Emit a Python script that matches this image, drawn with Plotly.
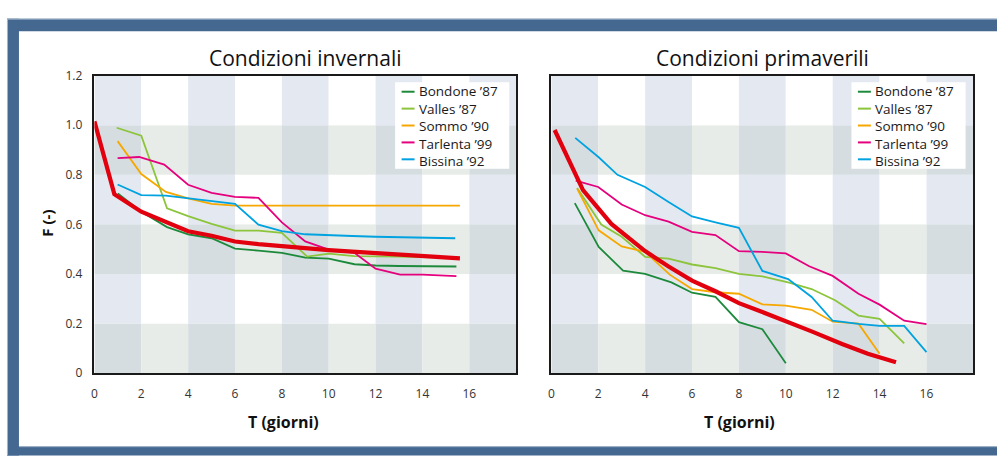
import plotly.graph_objects as go

# ---------------- data ----------------
series_names = ["Bondone \u201987", "Valles \u201987", "Sommo \u201990", "Tarlenta \u201999", "Bissina \u201992"]
series_colors = ["#1d8a3b", "#8cc43c", "#f6a800", "#e5007d", "#00a2e0"]
mean_color = "#e2000f"

# Winter conditions (Condizioni invernali)
w_bondone_x = [1, 2, 3.1, 4, 5, 6, 7, 8, 9, 10, 11.1, 12, 13, 14, 15.45]
w_bondone_y = [0.725, 0.651, 0.589, 0.560, 0.544, 0.502, 0.494, 0.485, 0.466, 0.462, 0.439, 0.434, 0.432, 0.431, 0.430]
w_valles_x = [0.95, 2, 3.1, 4, 5, 6, 7, 8, 9.08, 10, 11.1, 12, 13, 14, 15.5]
w_valles_y = [0.990, 0.958, 0.665, 0.633, 0.602, 0.575, 0.575, 0.566, 0.470, 0.482, 0.472, 0.472, 0.470, 0.468, 0.467]
w_sommo_x = [0.99, 2, 3.05, 4, 5, 6, 7, 8, 9, 10, 11, 12, 13, 14, 15.6]
w_sommo_y = [0.936, 0.803, 0.731, 0.705, 0.683, 0.676, 0.676, 0.676, 0.676, 0.676, 0.676, 0.676, 0.676, 0.676, 0.676]
w_tarlenta_x = [0.99, 1.91, 2.98, 4, 5, 6, 7, 8, 9, 10, 11.1, 12, 13.05, 14, 15.45]
w_tarlenta_y = [0.867, 0.872, 0.841, 0.760, 0.727, 0.711, 0.707, 0.608, 0.531, 0.498, 0.485, 0.421, 0.397, 0.397, 0.391]
w_bissina_x = [0.99, 2, 3.05, 4, 5, 6, 7, 8, 9, 10, 11, 12, 13, 14, 15.4]
w_bissina_y = [0.761, 0.718, 0.716, 0.705, 0.693, 0.683, 0.599, 0.573, 0.560, 0.555, 0.553, 0.550, 0.548, 0.546, 0.544]
w_mean_x = [0, 0.85, 2, 3.1, 4, 5, 6, 7, 8, 9, 10, 11, 12, 13, 14, 15, 15.6]
w_mean_y = [1.016, 0.722, 0.651, 0.608, 0.572, 0.554, 0.531, 0.520, 0.511, 0.503, 0.496, 0.490, 0.485, 0.480, 0.474, 0.467, 0.463]

# Spring conditions (Condizioni primaverili)
s_bondone_x = [1, 2.02, 3.06, 4, 5.12, 6, 7, 8, 9, 10]
s_bondone_y = [0.686, 0.509, 0.413, 0.400, 0.366, 0.324, 0.307, 0.205, 0.177, 0.039]
s_valles_x = [1.1, 2.13, 3, 4, 5, 6, 7, 8, 9, 10.1, 11.1, 12.1, 13.1, 14, 15.05]
s_valles_y = [0.747, 0.599, 0.550, 0.469, 0.462, 0.438, 0.423, 0.400, 0.390, 0.366, 0.339, 0.294, 0.232, 0.219, 0.120]
s_sommo_x = [1.1, 2.02, 3, 4, 5.05, 6, 7, 8, 9, 10, 11.1, 12, 13.1, 14]
s_sommo_y = [0.744, 0.576, 0.511, 0.489, 0.397, 0.339, 0.326, 0.320, 0.277, 0.272, 0.255, 0.207, 0.199, 0.078]
s_tarlenta_x = [1.04, 2, 3, 4, 5, 6, 7, 8, 9, 10, 11, 12, 13.1, 14, 15.05, 16]
s_tarlenta_y = [0.777, 0.751, 0.680, 0.637, 0.611, 0.570, 0.557, 0.492, 0.489, 0.483, 0.431, 0.392, 0.320, 0.276, 0.211, 0.197]
s_bissina_x = [1.02, 2.02, 2.82, 4, 5, 6, 7, 8, 9, 10.1, 11.1, 12, 13.1, 14, 15.05, 16]
s_bissina_y = [0.949, 0.871, 0.800, 0.751, 0.690, 0.632, 0.608, 0.586, 0.412, 0.379, 0.307, 0.211, 0.198, 0.190, 0.190, 0.084]
s_mean_x = [0.14, 1.35, 2.56, 4, 5, 6, 7, 8, 9, 10.1, 11.1, 12.4, 13.5, 14.7]
s_mean_y = [0.981, 0.738, 0.602, 0.492, 0.430, 0.373, 0.330, 0.282, 0.246, 0.207, 0.168, 0.117, 0.078, 0.043]

x_tickvals = [0, 2, 4, 6, 8, 10, 12, 14, 16]
y_tickvals = [0, 0.2, 0.4, 0.6, 0.8, 1.0, 1.2]
y_ticktext = ["0", "0.2", "0.4", "0.6", "0.8", "1.0", "1.2"]

titles = ["Condizioni invernali", "Condizioni primaverili"]
x_title = "T (giorni)"
y_title = "F (-)"

# ---------------- figure ----------------
W, H = 997, 459
FONT = "Open Sans"


def px(v):
    return v / W


def py(v):
    return 1 - v / H


fig = go.Figure()

winter = [(w_bondone_x, w_bondone_y), (w_valles_x, w_valles_y), (w_sommo_x, w_sommo_y),
          (w_tarlenta_x, w_tarlenta_y), (w_bissina_x, w_bissina_y)]
spring = [(s_bondone_x, s_bondone_y), (s_valles_x, s_valles_y), (s_sommo_x, s_sommo_y),
          (s_tarlenta_x, s_tarlenta_y), (s_bissina_x, s_bissina_y)]

for data, mx, my, xa, ya in [(winter, w_mean_x, w_mean_y, "x", "y"),
                             (spring, s_mean_x, s_mean_y, "x2", "y2")]:
    for (sx, sy), name, col in zip(data, series_names, series_colors):
        fig.add_trace(go.Scatter(x=sx, y=sy, mode="lines", name=name, showlegend=False,
                                 line=dict(color=col, width=1.8), xaxis=xa, yaxis=ya))
    fig.add_trace(go.Scatter(x=mx, y=my, mode="lines", name="media", showlegend=False,
                             line=dict(color=mean_color, width=4.2), xaxis=xa, yaxis=ya))

# checkerboard background
c_wh, c_col, c_row, c_both = "#ffffff", "#e4e9f1", "#e8ece8", "#d5dde1"
shapes = []
for xr, yr in [("x", "y"), ("x2", "y2")]:
    for i in range(9):
        for j in range(6):
            dark_col = (i % 2 == 0)
            dark_row = (j % 2 == 0)
            if dark_col and dark_row:
                c = c_both
            elif dark_col:
                c = c_col
            elif dark_row:
                c = c_row
            else:
                c = c_wh
            shapes.append(dict(type="rect", xref=xr, yref=yr, x0=2 * i, x1=2 * i + 2,
                               y0=0.2 * j, y1=0.2 * j + 0.2, fillcolor=c,
                               line=dict(width=0), layer="below"))

# outer blue frame
frame = "#456891"
edge = "#a3b6cb"
shapes += [
    dict(type="rect", xref="paper", yref="paper", x0=px(4), x1=1.01, y0=py(23), y1=py(10),
         fillcolor=frame, line=dict(width=0), layer="above"),
    dict(type="rect", xref="paper", yref="paper", x0=px(4), x1=px(16), y0=-0.01, y1=py(10),
         fillcolor=frame, line=dict(width=0), layer="above"),
    dict(type="rect", xref="paper", yref="paper", x0=px(4), x1=1.01, y0=-0.01, y1=py(454),
         fillcolor=frame, line=dict(width=0), layer="above"),
    dict(type="line", xref="paper", yref="paper", x0=px(4), x1=1.01, y0=py(10.5), y1=py(10.5),
         line=dict(color=edge, width=1), layer="above"),
    dict(type="line", xref="paper", yref="paper", x0=px(16), x1=1.01, y0=py(454.5), y1=py(454.5),
         line=dict(color=edge, width=1), layer="above"),
    dict(type="line", xref="paper", yref="paper", x0=px(4.5), x1=px(4.5), y0=-0.01, y1=py(10),
         line=dict(color=edge, width=1), layer="above"),
]

# custom legends (one per panel): white box, short line samples, one text block
annotations = []
LEG_FS = 13.5
LEG_STEP = 1.3 * LEG_FS
for bx in [393.3, 851.0]:
    shapes.append(dict(type="rect", xref="paper", yref="paper", x0=px(bx), x1=px(bx + 114.5),
                       y0=py(166), y1=py(76), fillcolor="white", line=dict(width=0), layer="above"))
    y_first = 121.0 - 2 * LEG_STEP
    for k, col in enumerate(series_colors):
        yc = y_first + LEG_STEP * k
        shapes.append(dict(type="line", xref="paper", yref="paper", x0=px(bx + 6.5), x1=px(bx + 19.5),
                           y0=py(yc), y1=py(yc), line=dict(color=col, width=2), layer="above"))
    annotations.append(dict(text="<br>".join(series_names), xref="paper", yref="paper",
                            x=px(bx + 21.5), y=py(121.5), showarrow=False, xanchor="left",
                            yanchor="middle", align="left",
                            font=dict(family=FONT, size=LEG_FS, color="#1a1a1a")))

dom1 = [px(91.7), px(514.7)]
dom2 = [px(550), px(973.3)]
ydom = [py(378), py(69.3)]

axis_common = dict(range=[0, 18], tickvals=x_tickvals, showgrid=False, zeroline=False,
                   showline=True, linecolor="#1a1a1a", linewidth=1.5, mirror=True, ticks="",
                   tickfont=dict(family=FONT, size=12, color="#333333"), ticklabelstandoff=9)
yaxis_common = dict(range=[0, 1.2], tickvals=y_tickvals, ticktext=y_ticktext, showgrid=False,
                    zeroline=False, showline=True, linecolor="#1a1a1a", linewidth=1.5, mirror=True,
                    ticks="", tickfont=dict(family=FONT, size=12, color="#333333"))

fig.update_layout(
    width=W, height=H,
    margin=dict(l=0, r=0, t=0, b=0),
    paper_bgcolor="white", plot_bgcolor="white",
    showlegend=False,
    xaxis=dict(domain=dom1, anchor="y", **axis_common),
    yaxis=dict(domain=ydom, anchor="x", ticklabelstandoff=8, **yaxis_common),
    xaxis2=dict(domain=dom2, anchor="y2", **axis_common),
    yaxis2=dict(domain=ydom, anchor="x2", showticklabels=False, **yaxis_common),
    shapes=shapes,
)

for t, d, xt in zip(titles, [dom1, dom2], [281.5, 739.0]):
    annotations.append(dict(text=t, xref="paper", yref="paper", x=(d[0] + d[1]) / 2, y=py(51),
                            showarrow=False, xanchor="center", yanchor="middle",
                            font=dict(family=FONT, size=21, color="#111111")))
    annotations.append(dict(text="<b>" + x_title + "</b>", xref="paper", yref="paper",
                            x=px(xt), y=py(429), showarrow=False, xanchor="center", yanchor="middle",
                            font=dict(family=FONT, size=16, color="#111111")))
annotations.append(dict(text="<b>" + y_title + "</b>", xref="paper", yref="paper", x=px(44),
                        y=py(222), showarrow=False, textangle=-90, xanchor="center",
                        yanchor="middle", font=dict(family=FONT, size=15, color="#111111")))
fig.update_layout(annotations=annotations)

fig.write_html("out.html", config={"displayModeBar": False},
               post_script="document.body.style.margin='0';document.body.style.overflow='hidden';")
